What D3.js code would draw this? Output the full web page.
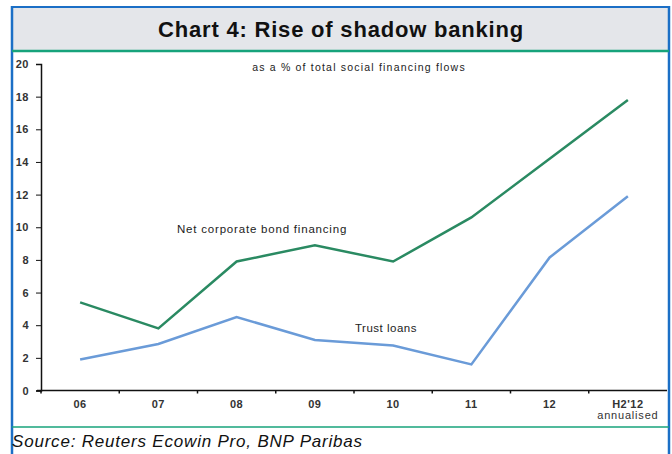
<!DOCTYPE html>
<html>
<head>
<meta charset="utf-8">
<script src="https://d3js.org/d3.v7.min.js"></script>
<style>
  body { margin: 0; background: #fff; }
  text { font-family: "Liberation Sans", Arial, sans-serif; }
</style>
</head>
<body>
<svg id="chart" width="672" height="454"></svg>
<script>
var categories = ["06", "07", "08", "09", "10", "11", "12", "H2'12"];
var bondFinancing = [5.4, 3.8, 7.9, 8.9, 7.9, 10.6, 14.2, 17.8];
var trustLoans = [1.9, 2.85, 4.5, 3.1, 2.75, 1.6, 8.15, 11.9];
var yTicks = [0, 2, 4, 6, 8, 10, 12, 14, 16, 18, 20];

var svg = d3.select("#chart");

// frame and title band
svg.append("rect").attr("x", 12).attr("y", 7).attr("width", 656).attr("height", 44)
  .attr("fill", "#e4e6ea");
svg.append("line").attr("x1", 12).attr("x2", 668).attr("y1", 7).attr("y2", 7)
  .attr("stroke", "#1b6fc6").attr("stroke-width", 2);
svg.append("line").attr("x1", 12).attr("x2", 12).attr("y1", 6).attr("y2", 454)
  .attr("stroke", "#1b6fc6").attr("stroke-width", 2.5);
svg.append("line").attr("x1", 669).attr("x2", 669).attr("y1", 6).attr("y2", 454)
  .attr("stroke", "#1b6fc6").attr("stroke-width", 2.5);
svg.append("line").attr("x1", 12).attr("x2", 669).attr("y1", 51).attr("y2", 51)
  .attr("stroke", "#17a37b").attr("stroke-width", 2.5);
svg.append("line").attr("x1", 12).attr("x2", 669).attr("y1", 427).attr("y2", 427)
  .attr("stroke", "#17a37b").attr("stroke-width", 1.5);

svg.append("text").attr("x", 341).attr("y", 37).attr("text-anchor", "middle")
  .style("font-size", "22px").style("font-weight", "bold").style("letter-spacing", "0.8px")
  .attr("fill", "#111")
  .text("Chart 4: Rise of shadow banking");

svg.append("text").attr("x", 12).attr("y", 447)
  .style("font-size", "17px").style("font-style", "italic").style("letter-spacing", "0.8px")
  .attr("fill", "#111")
  .text("Source: Reuters Ecowin Pro, BNP Paribas");

// scales
var x = d3.scaleBand().domain(categories).range([41, 667]).padding(0);
var y = d3.scaleLinear().domain([0, 20]).range([390.5, 64]);

// y axis
var yAxis = svg.append("g").attr("transform", "translate(41,0)")
  .call(d3.axisLeft(y).tickValues(yTicks).tickSize(5).tickSizeOuter(5).tickPadding(7));
yAxis.select(".domain").attr("stroke", "#111").attr("stroke-width", 1.5);
yAxis.selectAll(".tick line").attr("stroke", "#111");
yAxis.selectAll(".tick text").style("font-size", "11px").style("font-weight", "bold")
  .style("letter-spacing", "0.5px").attr("fill", "#333");

// x axis with ticks between categories
var xAxis = svg.append("g").attr("transform", "translate(0,390.5)");
xAxis.append("line").attr("x1", 37).attr("x2", 667).attr("y1", 0).attr("y2", 0)
  .attr("stroke", "#111").attr("stroke-width", 1.5);
xAxis.selectAll(".xt").data(categories).enter().append("line")
  .attr("x1", function(d) { return x(d); }).attr("x2", function(d) { return x(d); })
  .attr("y1", 0).attr("y2", 3).attr("stroke", "#111").attr("stroke-width", 1.5);
xAxis.selectAll(".xl").data(categories).enter().append("text")
  .attr("x", function(d) { return x(d) + x.bandwidth() / 2; })
  .attr("y", 17).attr("text-anchor", "middle")
  .style("font-size", "11px").style("font-weight", "bold").style("letter-spacing", "0.5px")
  .attr("fill", "#333")
  .text(function(d) { return d; });
svg.append("text").attr("x", x("H2'12") + x.bandwidth() / 2).attr("y", 419)
  .attr("text-anchor", "middle").style("font-size", "11px").style("letter-spacing", "0.8px")
  .attr("fill", "#333")
  .text("annualised");

// lines
var line = d3.line()
  .x(function(d, i) { return x(categories[i]) + x.bandwidth() / 2; })
  .y(function(d) { return y(d); });

svg.append("path").datum(trustLoans).attr("d", line).attr("fill", "none")
  .attr("stroke", "#6a9bd8").attr("stroke-width", 2.5);
svg.append("path").datum(bondFinancing).attr("d", line).attr("fill", "none")
  .attr("stroke", "#2a8a62").attr("stroke-width", 2.5);

// annotations
svg.append("text").attr("x", 359).attr("y", 71).attr("text-anchor", "middle")
  .style("font-size", "10.5px").style("letter-spacing", "1.2px").attr("fill", "#222")
  .text("as a % of total social financing flows");
svg.append("text").attr("x", 177).attr("y", 233)
  .style("font-size", "11.5px").style("letter-spacing", "0.8px").attr("fill", "#222")
  .text("Net corporate bond financing");
svg.append("text").attr("x", 355).attr("y", 332)
  .style("font-size", "11.5px").style("letter-spacing", "0.5px").attr("fill", "#222")
  .text("Trust loans");
</script>
</body>
</html>
